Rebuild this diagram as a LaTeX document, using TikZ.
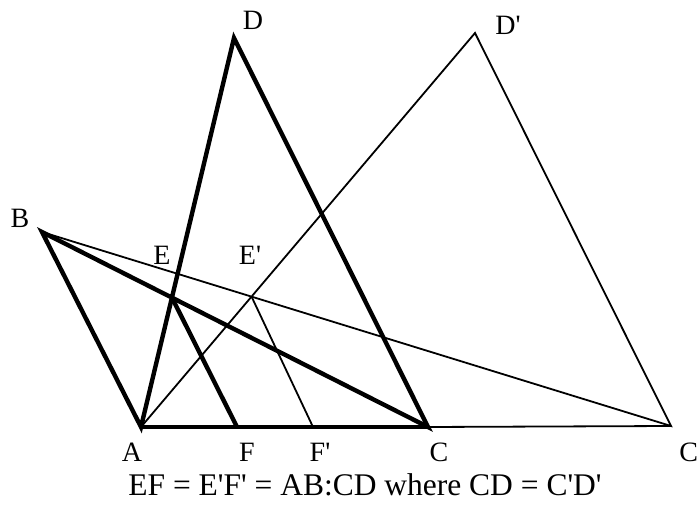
\documentclass[tikz,border=0pt]{standalone}
\usepackage{fontspec}
\setmainfont{Liberation Serif}[Ligatures=TeXOff]
\tikzset{
  heavyline/.style = {line width=2.2pt},
  lightline/.style = {line width=0.9pt},
  ptlabel/.style   = {font=\fontsize{14}{16}\selectfont,inner sep=0pt},
  capline/.style   = {font=\fontsize{15.75}{18}\selectfont,inner sep=0pt}
}

\begin{document}
\begin{tikzpicture}[x=0.5pt,y=0.5pt]
  \useasboundingbox (0,0) rectangle (697,504);
  % vertices
  \coordinate (A)  at (141,77);
  \coordinate (C)  at (428,77);
  \coordinate (Cp) at (671,78);
  \coordinate (B)  at (42,272);
  \coordinate (D)  at (234,466);
  \coordinate (Dp) at (475,471);
  \coordinate (F)  at (237,77);
  \coordinate (Fp) at (313,77);
  \coordinate (E)  at (intersection of A--D and B--C);
  \coordinate (Ep) at (intersection of A--Dp and B--Cp);
  % the second triangle, thin
  \draw[lightline] (B) -- (Cp) -- (Dp) -- (A);
  \draw[lightline] (C) -- (Cp);
  \draw[lightline] (Ep) -- (Fp);
  % the first figure, heavy
  \draw[heavyline] (D) -- (A) -- (B) -- (C) -- cycle;
  \draw[heavyline] (A) -- (C);
  \draw[heavyline] (E) -- (F);
  % labels
  \node[ptlabel] (lD)  at (253,484) {D};
  \node[ptlabel] (lDp) at (508,479) {D'};
  \node[ptlabel] (lB)  at (20,286)  {B};
  \node[ptlabel] (lE)  at (162,249) {E};
  \node[ptlabel] (lEp) at (250,249) {E'};
  \node[ptlabel] (lA)  at (132,52)  {A};
  \node[ptlabel] (lF)  at (247,52)  {F};
  \node[ptlabel] (lFp) at (320,52)  {F'};
  \node[ptlabel] (lC)  at (439,52)  {C};
  \node[ptlabel,anchor=west] (lCp) at (679,52) {C'};
  \node[capline] (caption) at (365,19) {EF = E'F' = AB:CD where CD = C'D'};
\end{tikzpicture}
\end{document}
